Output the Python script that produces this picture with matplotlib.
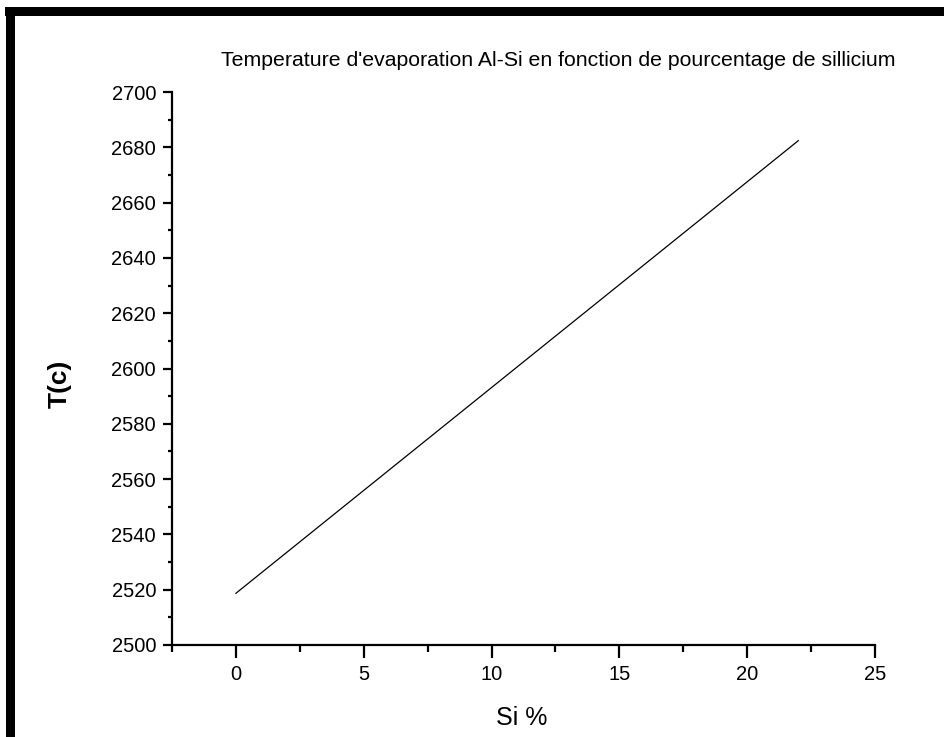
import matplotlib
matplotlib.use('Agg')
import matplotlib.pyplot as plt
from matplotlib.patches import Rectangle
from matplotlib.ticker import MultipleLocator

plt.rcParams['font.family'] = ['Liberation Sans', 'DejaVu Sans']

# data
si_pct = [0, 22]
temp_c = [2518.7, 2682.4]

W, H = 945, 737
fig = plt.figure(figsize=(W / 100, H / 100), dpi=100)
ax = fig.add_axes([172 / W, 1 - 645 / H, (875 - 172) / W, (645 - 92) / H])

ax.plot(si_pct, temp_c, color='black', lw=0.9)

ax.set_xlim(-2.5, 25)
ax.set_ylim(2500, 2700)
ax.xaxis.set_major_locator(MultipleLocator(5))
ax.xaxis.set_minor_locator(MultipleLocator(2.5))
ax.yaxis.set_major_locator(MultipleLocator(20))
ax.yaxis.set_minor_locator(MultipleLocator(10))

for s in ['top', 'right']:
    ax.spines[s].set_visible(False)
for s in ['left', 'bottom']:
    ax.spines[s].set_linewidth(1.6)

ax.tick_params(axis='x', which='major', direction='out', length=9.5, width=1.6, pad=5, labelsize=14.5)
ax.tick_params(axis='x', which='minor', direction='out', length=5, width=1.6)
ax.tick_params(axis='y', which='major', direction='out', length=6.5, width=1.6, pad=5, labelsize=14.5)
ax.tick_params(axis='y', which='minor', direction='out', length=3, width=1.6)

fig.text(558 / W, 1 - 60 / H, "Temperature d'evaporation Al-Si en fonction de pourcentage de sillicium",
         ha='center', va='center', fontsize=15.3)
fig.text(60 / W, 1 - 384 / H, 'T(c)', rotation=90, ha='center', va='center',
         fontsize=19, fontweight='bold')
fig.text(522 / W, 1 - 718 / H, 'Si %', ha='center', va='center', fontsize=18)

# black frame on top and left edges
fig.add_artist(Rectangle((5 / W, 1 - 16 / H), 1, 9 / H, transform=fig.transFigure,
                         facecolor='black', edgecolor='none'))
fig.add_artist(Rectangle((6 / W, 0), 9 / W, 1 - 7 / H, transform=fig.transFigure,
                         facecolor='black', edgecolor='none'))

fig.savefig('out.png', dpi=100)
